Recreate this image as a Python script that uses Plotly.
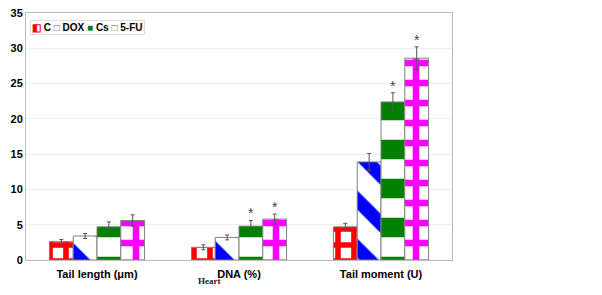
import plotly.graph_objects as go

categories = ["Tail length (μm)", "DNA (%)", "Tail moment (U)"]
series_names = ["C", "DOX", "Cs", "5-FU"]
c_vals = [2.6, 1.8, 4.7]
c_err = [0.3, 0.35, 0.5]
dox_vals = [3.4, 3.2, 13.9]
dox_err = [0.35, 0.35, 1.2]
cs_vals = [4.7, 4.8, 22.4]
cs_err = [0.7, 0.8, 1.3]
fu_vals = [5.6, 5.8, 28.6]
fu_err = [0.8, 0.7, 1.6]
y_ticks = [0, 5, 10, 15, 20, 25, 30, 35]
star_series = [("Cs", cs_vals, cs_err, 2), ("5-FU", fu_vals, fu_err, 3)]
star_flags = [False, True, True]

FONT = "Liberation Sans, Arial, sans-serif"

styles = {
    "C": dict(shape="+", fgcolor="#ff0000", bgcolor="white", size=16, solidity=0.58, fgopacity=1),
    "DOX": dict(shape="\\", fgcolor="#0000ff", bgcolor="white", size=34, solidity=0.4, fgopacity=1),
    "Cs": dict(shape="-", fgcolor="#008000", bgcolor="white", size=39, solidity=0.5, fgopacity=1),
    "5-FU": dict(shape="+", fgcolor="#ff00ff", bgcolor="white", size=20, solidity=0.55, fgopacity=1),
}

fig = go.Figure()
for name, vals, errs in zip(series_names, [c_vals, dox_vals, cs_vals, fu_vals],
                            [c_err, dox_err, cs_err, fu_err]):
    fig.add_trace(go.Bar(
        name=name, x=categories, y=vals, showlegend=False,
        error_y=dict(type="data", array=errs, color="#555555", thickness=1, width=2),
        marker=dict(color="white", pattern=styles[name],
                    line=dict(color="#808080", width=1)),
    ))

bar_w = 142 * 0.67 / 4
for name, vals, errs, idx in star_series:
    for i, cat in enumerate(categories):
        if star_flags[i]:
            fig.add_annotation(x=cat, y=vals[i] + errs[i], text="*", showarrow=False,
                               xshift=(idx - 1.5) * bar_w, yshift=7,
                               font=dict(family=FONT, size=14, color="#444444"))

legend_text = ("<span style='color:#ff0000'>◧</span> C "
               "<span style='color:#666666'>□</span> DOX "
               "<span style='color:#008000'>■</span> Cs "
               "<span style='color:#666666'>□</span> 5-FU")
fig.add_annotation(x=0.01, y=0.97, xref="paper", yref="paper", text=legend_text,
                   showarrow=False, xanchor="left", yanchor="top",
                   bgcolor="white", bordercolor="#dddddd", borderwidth=1, borderpad=1,
                   font=dict(family=FONT, size=10, color="black", weight="bold"))

fig.add_annotation(x=0.43, y=-0.087, xref="paper", yref="paper", text="<b>Heart</b>",
                   showarrow=False, xanchor="center", yanchor="middle",
                   font=dict(family="Liberation Serif, Times New Roman, serif", size=9, color="#222222"))

fig.update_layout(
    width=602, height=295,
    margin=dict(l=26, r=150, t=7, b=35),
    paper_bgcolor="white", plot_bgcolor="white",
    barmode="group", bargap=0.33, bargroupgap=0,
    font=dict(family=FONT, size=11, color="black"),
    showlegend=False,
    xaxis=dict(showline=True, linecolor="#bbbbbb", linewidth=1, mirror=True,
               tickfont=dict(family=FONT, size=11, weight="bold"), ticks="",
               ticklabelstandoff=4),
    yaxis=dict(range=[0, 35], tickvals=y_ticks, showgrid=True, gridcolor="#eeeeee",
               showline=True, linecolor="#bbbbbb", linewidth=1, mirror=True,
               zeroline=False, ticks="", ticklen=0,
               tickfont=dict(family=FONT, size=11, weight="bold")),
)

fig.write_html("out.html", config={"displayModeBar": False},
               post_script="document.body.style.margin='0px';")
